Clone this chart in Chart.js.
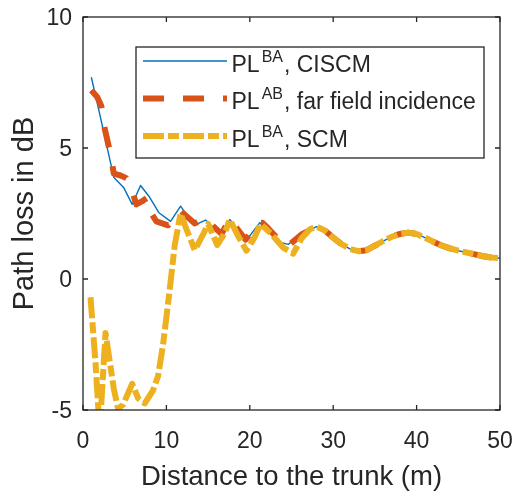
<!DOCTYPE html>
<html>
<head>
<meta charset="utf-8">
<script src="https://cdn.jsdelivr.net/npm/chart.js@4/dist/chart.umd.min.js"></script>
<style>
  html, body { margin: 0; padding: 0; background: #ffffff; }
  #plot { display: block; }
</style>
</head>
<body>
<canvas id="plot" width="517" height="496"></canvas>
<script>
// Path loss behind the trunk for three propagation models.

// CISCM model (near field part)
const ciscmDistance = [1.0, 2.0, 3.7, 4.9, 5.9, 6.9, 7.9, 9.1, 10.5, 11.7, 13.3, 14.7, 16.7, 17.6, 19.5, 21.2, 22.3, 23.7, 24.6, 26.2, 28.0];
const ciscmLoss     = [7.70, 6.30, 3.87, 3.48, 2.85, 3.57, 3.16, 2.53, 2.20, 2.78, 2.05, 2.25, 1.64, 2.27, 1.44, 2.15, 1.85, 1.40, 1.32, 1.70, 2.00];

// far field incidence (near field part)
const farFieldDistance = [1.0, 1.7, 2.2, 2.6, 3.2, 3.7, 4.5, 5.2, 5.6, 6.4, 7.0, 7.7, 8.2, 8.8, 10.2, 11.0, 11.7, 13.4, 14.6, 16.6, 17.6, 18.3, 19.5, 20.9, 21.5, 22.3, 23.7, 24.6, 26.2, 28.0];
const farFieldLoss     = [7.20, 6.95, 6.60, 5.75, 4.90, 4.02, 3.95, 3.85, 3.65, 2.85, 2.95, 3.10, 2.50, 2.20, 2.05, 2.30, 2.60, 2.12, 2.32, 1.72, 2.30, 2.00, 1.50, 2.15, 2.15, 1.90, 1.42, 1.27, 1.70, 2.00];

// SCM model (near field part)
const scmDistance = [0.9, 1.5, 2.0, 2.7, 3.7, 4.2, 4.8, 5.9, 6.6, 7.4, 8.4, 9.0, 9.6, 10.4, 11.0, 11.7, 12.4, 13.4, 14.4, 15.0, 16.1, 17.0, 17.6, 18.5, 19.6, 20.5, 21.3, 22.5, 24.0, 25.2, 26.2, 27.2, 28.0];
const scmLoss     = [-0.70, -3.20, -5.80, -2.06, -4.20, -4.95, -4.80, -4.00, -4.55, -4.75, -4.25, -3.70, -2.50, -0.40, 1.30, 2.50, 1.90, 1.10, 1.70, 2.10, 1.30, 1.75, 2.27, 1.70, 1.08, 1.55, 2.10, 1.75, 1.20, 0.97, 1.55, 1.90, 2.00];

// beyond 28 m the three models coincide
const tailDistance = [29, 30, 31, 32, 33, 34, 35, 36, 37, 38, 39, 40, 41, 42, 43, 44, 45, 46, 47, 48, 49, 50];
const tailLoss     = [1.85, 1.58, 1.33, 1.15, 1.06, 1.10, 1.27, 1.45, 1.61, 1.72, 1.77, 1.72, 1.58, 1.42, 1.28, 1.17, 1.08, 1.01, 0.94, 0.87, 0.82, 0.79];

const xTickValues = [0, 10, 20, 30, 40, 50];
const yTickValues = [-5, 0, 5, 10];

const legendBase = ['PL', 'PL', 'PL'];
const legendSup  = ['BA', 'AB', 'BA'];
const legendRest = [', CISCM', ', far field incidence', ', SCM'];

const FONT = "'Liberation Sans', Arial, Helvetica, sans-serif";
const INK = '#262626';

function toPoints(dist, loss) {
  const pts = dist.map((d, i) => ({ x: d, y: loss[i] }));
  return pts.concat(tailDistance.map((d, i) => ({ x: d, y: tailLoss[i] })));
}

// axes box with inward ticks on all four sides
const axesBox = {
  id: 'axesBox',
  afterDatasetsDraw(chart) {
    const { ctx, chartArea: a, scales: { x, y } } = chart;
    const len = 5;
    ctx.save();
    ctx.strokeStyle = INK;
    ctx.lineWidth = 1.3;
    ctx.strokeRect(a.left, a.top, a.right - a.left, a.bottom - a.top);
    ctx.beginPath();
    x.ticks.forEach(t => {
      const px = x.getPixelForValue(t.value);
      ctx.moveTo(px, a.bottom); ctx.lineTo(px, a.bottom - len);
      ctx.moveTo(px, a.top);    ctx.lineTo(px, a.top + len);
    });
    y.ticks.forEach(t => {
      const py = y.getPixelForValue(t.value);
      ctx.moveTo(a.left, py);  ctx.lineTo(a.left + len, py);
      ctx.moveTo(a.right, py); ctx.lineTo(a.right - len, py);
    });
    ctx.stroke();
    ctx.restore();
  }
};

// legend with superscripted labels
const supLegend = {
  id: 'supLegend',
  afterDraw(chart) {
    const { ctx } = chart;
    const box = { left: 136, top: 47, right: 484, bottom: 158 };
    const rowH = 37.5;
    ctx.save();
    ctx.fillStyle = '#ffffff';
    ctx.fillRect(box.left, box.top, box.right - box.left, box.bottom - box.top);
    ctx.strokeStyle = INK;
    ctx.lineWidth = 1.3;
    ctx.strokeRect(box.left, box.top, box.right - box.left, box.bottom - box.top);
    chart.data.datasets.forEach((ds, i) => {
      const base = 71.7 + i * rowH;
      const ly = base - 10.7;
      ctx.save();
      ctx.strokeStyle = ds.borderColor;
      ctx.lineWidth = ds.borderWidth;
      ctx.lineCap = 'butt';
      ctx.setLineDash(ds.borderDash || []);
      ctx.beginPath();
      ctx.moveTo(143, ly);
      ctx.lineTo(227, ly);
      ctx.stroke();
      ctx.restore();

      ctx.fillStyle = INK;
      ctx.textBaseline = 'alphabetic';
      ctx.textAlign = 'left';
      let tx = 231.5;
      ctx.font = '23px ' + FONT;
      ctx.fillText(legendBase[i], tx, base);
      tx += ctx.measureText(legendBase[i]).width + 2;
      ctx.font = '16px ' + FONT;
      ctx.fillText(legendSup[i], tx, base - 10);
      tx += ctx.measureText(legendSup[i]).width + 1;
      ctx.font = '23px ' + FONT;
      ctx.fillText(legendRest[i], tx, base);
    });
    ctx.restore();
  }
};

Chart.defaults.color = INK;
Chart.defaults.font.family = FONT;

new Chart(document.getElementById('plot'), {
  type: 'line',
  data: {
    datasets: [
      {
        label: 'PL^BA, CISCM',
        data: toPoints(ciscmDistance, ciscmLoss),
        borderColor: '#0072BD',
        borderWidth: 1.4,
        order: 3
      },
      {
        label: 'PL^AB, far field incidence',
        data: toPoints(farFieldDistance, farFieldLoss),
        borderColor: '#D95319',
        borderWidth: 6,
        borderDash: [21, 19],
        order: 2
      },
      {
        label: 'PL^BA, SCM',
        data: toPoints(scmDistance, scmLoss),
        borderColor: '#EDB120',
        borderWidth: 6,
        borderDash: [21, 4, 11, 4],
        order: 1
      }
    ]
  },
  options: {
    responsive: false,
    maintainAspectRatio: false,
    devicePixelRatio: 1,
    animation: false,
    layout: { padding: { left: 0, top: 17, right: 17, bottom: 0 } },
    elements: {
      point: { radius: 0, hoverRadius: 0 },
      line: { tension: 0, fill: false, borderCapStyle: 'butt', borderJoinStyle: 'round' }
    },
    datasets: { line: { clip: 0 } },
    plugins: {
      legend: { display: false },
      tooltip: { enabled: false }
    },
    scales: {
      x: {
        type: 'linear',
        min: 0,
        max: 50,
        afterBuildTicks: s => { s.ticks = xTickValues.map(v => ({ value: v })); },
        afterFit: s => { s.height = 86; s.paddingLeft = 0; s.paddingRight = 0; },
        grid: { display: false, drawTicks: false },
        border: { display: false },
        ticks: { font: { size: 23 }, padding: 18, color: INK, maxRotation: 0 },
        title: {
          display: true,
          text: 'Distance to the trunk (m)',
          font: { size: 27.5 },
          color: INK,
          padding: { top: 0, bottom: 2 }
        }
      },
      y: {
        type: 'linear',
        min: -5,
        max: 10,
        afterBuildTicks: s => { s.ticks = yTickValues.map(v => ({ value: v })); },
        afterFit: s => { s.width = 83; s.paddingTop = 0; s.paddingBottom = 0; },
        grid: { display: false, drawTicks: false },
        border: { display: false },
        ticks: { font: { size: 23 }, padding: 11, color: INK, labelOffset: 1.5 },
        title: {
          display: true,
          text: 'Path loss in dB',
          font: { size: 29 },
          color: INK,
          padding: { top: 8, bottom: 0 }
        }
      }
    }
  },
  plugins: [axesBox, supLegend]
});
</script>
</body>
</html>
